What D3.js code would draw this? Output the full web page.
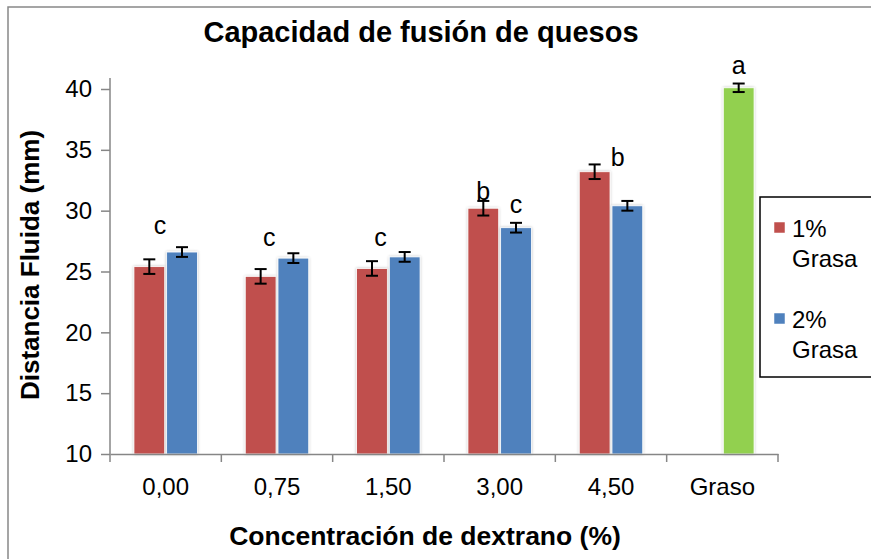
<!DOCTYPE html>
<html><head><meta charset="utf-8">
<script src="https://cdn.jsdelivr.net/npm/d3@7"></script>
<style>body{margin:0;background:#fff}svg{display:block;font-family:"Liberation Sans",Arial,sans-serif}</style>
</head><body><svg id="c" width="871" height="559"></svg>
<script>
const categories = ["0,00","0,75","1,50","3,00","4,50","Graso"];
const series = ["1% Grasa","2% Grasa"];
const grasa1 = [25.4, 24.6, 25.25, 30.2, 33.2];
const grasa1Err = [0.6, 0.6, 0.6, 0.6, 0.6];
const grasa2 = [26.6, 26.1, 26.2, 28.6, 30.4];
const grasa2Err = [0.4, 0.4, 0.4, 0.4, 0.4];
const grasoValue = [40.1];
const grasoErr = [0.35];
const yTicks = [10,15,20,25,30,35,40];
const letterText = ["c","c","c","b","c","b","a"];
const letterCat = ["0,00","0,75","1,50","3,00","3,00","4,50","Graso"];
const letterSlot = [0.45, 0.43, 0.43, "1% Grasa", "2% Grasa", 0.56, "2% Grasa"];
const letterVal = [28.1, 27.1, 27.1, 30.9, 29.8, 33.7, 41.2];
const colors = {"1% Grasa":"#C0504D","2% Grasa":"#4F81BD","Graso":"#92D050"};

const svg = d3.select("#c");
const defs = svg.append("defs");
const f = defs.append("filter").attr("id","sh").attr("x","-20%").attr("y","-5%").attr("width","140%").attr("height","110%");
f.append("feGaussianBlur").attr("in","SourceAlpha").attr("stdDeviation",1.6).attr("result","b");
f.append("feOffset").attr("in","b").attr("dx",0).attr("dy",0).attr("result","o");
f.append("feComponentTransfer").attr("in","o").attr("result","t").append("feFuncA").attr("type","linear").attr("slope",0.25);
const m = f.append("feMerge"); m.append("feMergeNode").attr("in","t"); m.append("feMergeNode").attr("in","SourceGraphic");

// outer frame (clipped at right and bottom)
svg.append("rect").attr("x",8).attr("y",7).attr("width",950).attr("height",650).attr("fill","none").attr("stroke","#888").attr("stroke-width",1.5);

const x = d3.scaleBand().domain(categories).range([110,778]);
const bw = x.bandwidth();
const x1 = d3.scaleBand().domain(series).range([bw*0.215, bw*0.785]).paddingInner(0.06);
const y = d3.scaleLinear().domain([10,40]).range([454,89]);

const bars = [];
categories.slice(0,5).forEach((c,i)=>{
  bars.push({c, s:"1% Grasa", v:grasa1[i], e:grasa1Err[i], col:colors["1% Grasa"]});
  bars.push({c, s:"2% Grasa", v:grasa2[i], e:grasa2Err[i], col:colors["2% Grasa"]});
});
bars.push({c:"Graso", s:"2% Grasa", v:grasoValue[0], e:grasoErr[0], col:colors["Graso"]});

const g = svg.append("g");
g.selectAll("rect.bar").data(bars).join("rect").attr("class","bar")
  .attr("x",d=>x(d.c)+x1(d.s)).attr("width",x1.bandwidth())
  .attr("y",d=>y(d.v)).attr("height",d=>y(10)-y(d.v))
  .attr("fill",d=>d.col).attr("stroke","#fff").attr("stroke-width",0.8).attr("filter","url(#sh)");

const eb = g.selectAll("g.eb").data(bars).join("g").attr("class","eb")
  .attr("transform",d=>`translate(${x(d.c)+x1(d.s)+x1.bandwidth()/2},0)`);
eb.append("line").attr("y1",d=>y(d.v+d.e)).attr("y2",d=>y(d.v-d.e)).attr("stroke","#000").attr("stroke-width",2);
eb.append("line").attr("x1",-6).attr("x2",6).attr("y1",d=>y(d.v+d.e)).attr("y2",d=>y(d.v+d.e)).attr("stroke","#000").attr("stroke-width",2);
eb.append("line").attr("x1",-6).attr("x2",6).attr("y1",d=>y(d.v-d.e)).attr("y2",d=>y(d.v-d.e)).attr("stroke","#000").attr("stroke-width",2);

const axCol = "#868686";
const yAx = svg.append("g").attr("transform","translate(110,0)")
  .call(d3.axisLeft(y).tickValues(yTicks).tickSize(9).tickPadding(9).tickFormat(d3.format("d")));
yAx.select(".domain").attr("d",`M0,${y(40.9)}V${y(10)}`);
const xAx = svg.append("g").attr("transform",`translate(0,${y(10)})`)
  .call(d3.axisBottom(x).tickSize(0).tickPadding(24));
xAx.selectAll("line.bt").data(categories.concat(["end"])).join("line").attr("class","bt")
  .attr("x1",(d,i)=>x.range()[0]+i*bw).attr("x2",(d,i)=>x.range()[0]+i*bw)
  .attr("y1",0).attr("y2",8);
[yAx,xAx].forEach(a=>{
  a.selectAll(".domain").attr("stroke",axCol).attr("stroke-width",1.5);
  a.selectAll("line").attr("stroke",axCol).attr("stroke-width",1.5);
  a.selectAll("text").attr("fill","#000").style("font-size","24px").style("font-family","'Liberation Sans',Arial,sans-serif");
});

svg.selectAll("text.let").data(letterText).join("text").attr("class","let")
  .attr("x",(d,i)=>{const s=letterSlot[i]; return typeof s==="number" ? x(letterCat[i])+s*bw : x(letterCat[i])+x1(s)+x1.bandwidth()/2;})
  .attr("y",(d,i)=>y(letterVal[i])).attr("text-anchor","middle")
  .style("font-size","25px").text(d=>d);

svg.append("text").attr("x",421).attr("y",42).attr("text-anchor","middle").style("font-size","29px").style("font-weight","bold").text("Capacidad de fusión de quesos");
svg.append("text").attr("transform","translate(39,265) rotate(-90)").attr("text-anchor","middle").style("font-size","26px").style("font-weight","bold").text("Distancia Fluida (mm)");
svg.append("text").attr("x",425).attr("y",545).attr("text-anchor","middle").style("font-size","26.5px").style("font-weight","bold").text("Concentración de dextrano (%)");

const lg = svg.append("g");
lg.append("rect").attr("x",760).attr("y",197).attr("width",150).attr("height",180).attr("fill","#fff").attr("stroke","#000").attr("stroke-width",1.5);
const items = lg.selectAll("g.it").data(series).join("g").attr("class","it")
  .attr("transform",(d,i)=>`translate(774,${222+i*91})`);
items.append("rect").attr("width",11).attr("height",11).attr("fill",d=>colors[d]).attr("stroke","#fff").attr("stroke-width",0.5);
items.append("text").attr("x",18).attr("y",15).style("font-size","24px").text(d=>d.split(" ")[0]);
items.append("text").attr("x",18).attr("y",45).style("font-size","24px").text(d=>d.split(" ")[1]);
</script></body></html>
